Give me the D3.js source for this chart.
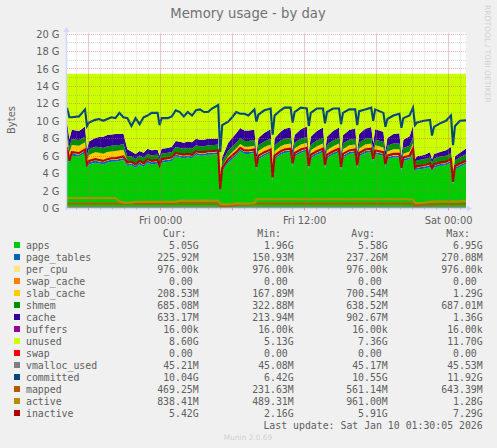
<!DOCTYPE html>
<html>
<head>
<meta charset="utf-8">
<script src="https://cdn.jsdelivr.net/npm/d3@7"></script>
<style>
  html, body { margin: 0; padding: 0; background: #f0f0f0; }
  svg { display: block; }
  text { font-family: "DejaVu Sans", sans-serif; }
  .mono { font-family: "DejaVu Sans Mono", monospace; font-size: 9.85px; fill: #606060; }
</style>
</head>
<body>
<svg id="chart" width="497" height="448"></svg>
<script>
const startTime = Date.UTC(2026, 0, 8, 16, 17);
const endTime = Date.UTC(2026, 0, 10, 1, 32);

// minutes after startTime
const sampleMinutes = [0,12,24,60,90,100,110,141,161,181,
  202,222,242,262,282,302,322,343,363,383,
  403,423,453,463,473,504,524,544,564,584,
  604,625,645,665,685,705,725,756,766,776,
  806,826,846,866,887,907,937,947,957,987,
  1018,1028,1038,1068,1088,1118,1128,1138,1169,1199,
  1209,1219,1249,1280,1290,1300,1330,1360,1370,1380,
  1411,1441,1451,1461,1491,1521,1531,1541,1582,1592,
  1602,1632,1662,1672,1682,1713,1730,1740,1750,1785,
  1815,1825,1835,1865,1895,1920,1930,1940,1965,1995];

const apps = [6.6,5.0,6.0,5.9,6.3,4.6,5.0,5.2,5.1,5.0,
  5.2,5.3,5.3,5.4,5.5,4.8,4.9,4.6,5.0,4.7,
  5.2,5.0,5.1,4.6,5.2,5.3,5.4,5.9,5.8,5.7,
  5.8,5.7,6.1,6.0,6.0,6.1,6.1,6.2,1.96,4.2,
  5.2,5.6,6.0,6.5,6.2,6.2,6.3,4.3,5.6,6.0,
  6.3,3.1,5.6,6.1,6.3,6.4,4.7,5.9,6.3,6.5,
  4.4,5.7,6.1,6.4,4.5,5.7,6.1,6.4,4.3,5.8,
  6.2,6.3,4.5,5.9,6.3,6.4,5.2,6.2,6.0,4.6,
  5.6,5.8,5.8,4.2,5.4,5.6,6.4,4.2,4.4,4.5,
  4.7,4.2,4.6,4.8,4.9,5.2,2.6,4.4,4.7,5.05];
const pageTables = [.23,.23,.23,.23,.23,.23,.23,.23,.23,.23,
  .23,.23,.23,.23,.23,.23,.23,.23,.23,.23,
  .23,.23,.23,.23,.23,.23,.23,.23,.23,.23,
  .23,.23,.23,.23,.23,.23,.23,.23,.23,.23,
  .23,.23,.23,.23,.23,.23,.23,.23,.23,.23,
  .23,.23,.23,.23,.23,.23,.23,.23,.23,.23,
  .23,.23,.23,.23,.23,.23,.23,.23,.23,.23,
  .23,.23,.23,.23,.23,.23,.23,.23,.23,.23,
  .23,.23,.23,.23,.23,.23,.23,.23,.23,.23,
  .23,.23,.23,.23,.23,.23,.23,.23,.23,.23];
const slabCache = [1.25,1.1,1.0,1.0,1.0,.7,.85,.95,1.0,1.0,
  1.0,.95,1.0,.95,.95,.3,.2,.2,.2,.2,
  .2,.2,.2,.2,.2,.2,.2,.2,.2,.2,
  .2,.2,.2,.2,.2,.2,.2,.2,.17,.35,
  .5,.55,.6,.6,.6,.6,.6,.45,.7,.75,
  .75,.4,.7,.75,.75,.75,.5,.7,.75,.75,
  .5,.7,.75,.75,.5,.7,.75,.75,.5,.7,
  .75,.75,.5,.7,.75,.75,.6,.75,.7,.5,
  .65,.7,.7,.45,.6,.65,.8,.25,.2,.2,
  .2,.2,.2,.2,.2,.2,.2,.2,.2,.21];
const shmem = [.65,.65,.65,.65,.65,.6,.65,.65,.65,.65,
  .65,.65,.65,.65,.65,.6,.6,.6,.6,.6,
  .6,.6,.6,.55,.6,.6,.6,.65,.65,.65,
  .65,.65,.65,.65,.65,.65,.65,.65,.32,.55,
  .65,.65,.65,.65,.65,.65,.65,.55,.65,.65,
  .65,.45,.65,.65,.65,.65,.55,.65,.65,.65,
  .55,.65,.65,.65,.55,.65,.65,.65,.55,.65,
  .65,.65,.55,.65,.65,.65,.6,.65,.65,.55,
  .65,.65,.65,.55,.65,.65,.65,.55,.65,.65,
  .65,.55,.65,.65,.65,.65,.45,.65,.65,.69];
const cache = [1.2,.9,1.1,1.05,1.15,.6,.9,1.0,1.15,1.3,
  1.3,1.3,1.3,1.25,1.2,.8,.55,.55,.5,.6,
  .55,.6,.55,.4,.55,.55,.6,.7,.7,.7,
  .75,.75,.75,.75,.75,.75,.75,.7,.21,.5,
  .9,1.0,1.1,1.2,1.2,1.2,1.2,.6,.85,1.0,
  1.1,.4,.8,1.0,1.15,1.2,.6,.9,1.1,1.2,
  .6,.9,1.1,1.2,.6,.9,1.1,1.2,.6,.95,
  1.1,1.2,.6,1.0,1.15,1.25,.8,1.2,1.15,.6,
  .9,1.1,1.2,.5,.95,1.1,1.36,.4,.45,.5,
  .6,.4,.5,.55,.65,.7,.3,.45,.55,.63];
const unused = [5.47,7.52,6.42,6.57,6.07,8.67,7.77,7.37,7.27,7.22,
  7.02,6.97,6.92,6.92,6.87,8.67,8.92,9.22,8.87,9.07,
  8.62,8.77,8.72,9.42,8.62,8.52,8.37,7.72,7.82,7.92,
  7.77,7.87,7.47,7.57,7.57,7.47,7.47,7.42,12.51,9.57,
  7.92,7.37,6.82,6.22,6.52,6.52,6.42,9.27,7.37,6.77,
  6.37,10.82,7.42,6.67,6.32,6.17,8.82,7.02,6.37,6.07,
  9.12,7.22,6.57,6.17,9.02,7.22,6.57,6.17,9.22,7.07,
  6.47,6.27,9.02,6.92,6.32,6.12,7.97,6.37,6.67,8.92,
  7.37,6.92,6.82,9.47,7.57,7.17,5.96,9.77,9.47,9.32,
  9.02,9.82,9.22,8.97,8.77,8.42,11.62,9.47,9.07,8.59];

const committed = [11.5,10.4,10.4,10.5,11.3,9.4,9.8,10.1,10.2,10.0,
  10.2,10.4,10.3,10.9,10.4,10.3,9.4,10.3,9.6,10.4,
  10.6,10.9,10.9,9.5,10.3,10.3,10.5,11.2,11.0,10.5,
  11.0,10.6,11.2,11.3,11.0,11.0,11.4,11.8,6.42,9.5,
  9.9,10.4,11.0,10.8,10.8,10.6,11.3,9.9,10.7,11.2,
  11.4,8.4,10.6,11.2,11.5,11.5,9.8,11.0,11.5,11.4,
  9.4,10.9,11.4,11.4,9.7,11.0,11.4,11.4,9.6,10.9,
  11.3,11.3,9.5,11.1,11.3,11.5,10.0,11.3,10.9,9.3,
  10.2,10.6,10.8,9.2,10.3,10.6,11.5,9.5,9.8,10.0,
  10.1,8.3,9.3,9.7,10.0,10.6,7.2,9.4,10.0,10.04];
const inactive = [7.0,5.4,6.4,6.3,6.7,5.0,5.4,5.6,5.5,5.4,
  5.6,5.7,5.7,5.8,5.9,5.2,5.3,5.0,5.4,5.1,
  5.6,5.4,5.5,4.9,5.6,5.7,5.8,6.3,6.2,6.1,
  6.2,6.1,6.5,6.4,6.4,6.5,6.5,6.6,2.16,4.6,
  5.6,6.0,6.4,6.9,6.6,6.6,6.7,4.7,6.0,6.4,
  6.7,3.5,6.0,6.5,6.7,6.8,5.1,6.3,6.7,6.9,
  4.8,6.1,6.5,6.8,4.9,6.1,6.5,6.8,4.7,6.2,
  6.6,6.7,4.9,6.3,6.7,6.8,5.6,6.6,6.4,5.0,
  6.0,6.2,6.2,4.6,5.8,6.0,6.8,4.6,4.8,4.9,
  5.1,4.6,5.0,5.2,5.3,5.6,3.0,4.8,5.1,5.42];
const active = [1.15,1.15,1.15,1.15,1.15,1.15,1.15,1.15,1.15,1.15,
  1.15,1.15,1.15,.75,.62,.62,.62,.72,.72,.72,
  .72,.72,.72,.72,.72,.72,.72,.72,.85,.85,
  .85,.85,.85,.85,.85,.85,.85,.85,.45,.42,
  .42,.45,.5,.5,.5,.5,.55,1.0,1.0,1.0,
  1.0,1.0,1.0,1.0,1.0,1.0,1.0,1.0,1.0,1.0,
  1.0,1.0,1.0,1.0,1.0,1.0,1.0,1.0,1.0,1.0,
  1.0,1.0,1.0,1.0,1.0,1.0,1.0,1.0,1.0,1.0,
  1.0,1.0,1.0,1.0,1.0,1.0,.95,.6,.55,.6,
  .72,.72,.75,.75,.75,.75,.75,.75,.78,.82];
const mapped = [.5,.5,.5,.5,.5,.5,.5,.5,.5,.5,
  .5,.5,.5,.5,.5,.5,.5,.5,.5,.5,
  .5,.5,.5,.5,.5,.5,.5,.5,.5,.5,
  .5,.5,.5,.5,.5,.5,.5,.5,.25,.2,
  .25,.3,.35,.4,.4,.42,.45,.5,.5,.5,
  .5,.48,.5,.52,.5,.5,.48,.5,.52,.5,
  .48,.5,.52,.5,.48,.5,.52,.5,.48,.5,
  .52,.5,.48,.5,.52,.5,.5,.5,.52,.48,
  .5,.52,.5,.48,.5,.5,.48,.3,.3,.4,
  .42,.42,.42,.45,.45,.45,.42,.45,.45,.47];
const vmallocUsed = [.045,.045,.045,.045,.045,.045,.045,.045,.045,.045,
  .045,.045,.045,.045,.045,.045,.045,.045,.045,.045,
  .045,.045,.045,.045,.045,.045,.045,.045,.045,.045,
  .045,.045,.045,.045,.045,.045,.045,.045,.045,.045,
  .045,.045,.045,.045,.045,.045,.045,.045,.045,.045,
  .045,.045,.045,.045,.045,.045,.045,.045,.045,.045,
  .045,.045,.045,.045,.045,.045,.045,.045,.045,.045,
  .045,.045,.045,.045,.045,.045,.045,.045,.045,.045,
  .045,.045,.045,.045,.045,.045,.045,.045,.045,.045,
  .045,.045,.045,.045,.045,.045,.045,.045,.045,.045];

const yTicks = [0, 2, 4, 6, 8, 10, 12, 14, 16, 18, 20];

const legendNames = ['apps','page_tables','per_cpu','swap_cache','slab_cache','shmem','cache','buffers','unused','swap','vmalloc_used','committed','mapped','active','inactive'];
const legendColours = ['#00cc00','#0066b3','#ffe680','#ff8000','#ffcc00','#008f00','#330099','#990099','#ccff00','#ff0000','#808080','#00487d','#b35a00','#b38f00','#b30000'];
const curValues = ['5.05G','225.92M','976.00k','0.00 ','208.53M','685.08M','633.17M','16.00k','8.60G','0.00 ','45.21M','10.04G','469.25M','838.41M','5.42G'];
const minValues = ['1.96G','150.93M','976.00k','0.00 ','167.89M','322.88M','213.94M','16.00k','5.13G','0.00 ','45.08M','6.42G','231.63M','489.31M','2.16G'];
const avgValues = ['5.58G','237.26M','976.00k','0.00 ','700.54M','638.52M','902.67M','16.00k','7.36G','0.00 ','45.17M','10.55G','561.14M','961.00M','5.91G'];
const maxValues = ['6.95G','270.08M','976.00k','0.00 ','1.29G','687.01M','1.36G','16.00k','11.70G','0.00 ','45.53M','11.92G','643.39M','1.28G','7.29G'];

const svg = d3.select('#chart');
const plotLeft = 67, plotRight = 466, plotTop = 33.5, plotBottom = 208;

const x = d3.scaleUtc().domain([startTime, endTime]).range([plotLeft, plotRight]);
const y = d3.scaleLinear().domain([0, 20]).range([plotBottom, plotTop]);
const timeAt = i => startTime + sampleMinutes[i] * 60000;

svg.append('rect').attr('x', plotLeft).attr('y', plotTop - 1)
  .attr('width', plotRight - plotLeft).attr('height', plotBottom - plotTop + 1).attr('fill', '#fff');

// stacked areas
const rows = apps.map((v, i) => ({
  apps: v, page_tables: pageTables[i], slab_cache: slabCache[i],
  shmem: shmem[i], cache: cache[i], unused: unused[i]
}));
const stackKeys = ['apps', 'page_tables', 'slab_cache', 'shmem', 'cache', 'unused'];
const area = d3.area()
  .x((d, i) => x(timeAt(i)))
  .y0(d => y(d[0]))
  .y1(d => y(d[1]));
svg.append('g').selectAll('path')
  .data(d3.stack().keys(stackKeys)(rows))
  .join('path')
    .attr('fill', d => legendColours[legendNames.indexOf(d.key)])
    .attr('d', area);

// line series
const line = d3.line().x((d, i) => x(timeAt(i))).y(d => y(d));
const lineSeries = [
  [vmallocUsed, '#808080'], [committed, '#00487d'], [mapped, '#b35a00'],
  [active, '#b38f00'], [inactive, '#b30000']
];
svg.append('g').selectAll('path')
  .data(lineSeries)
  .join('path')
    .attr('fill', 'none')
    .attr('stroke', d => d[1])
    .attr('stroke-width', 2.1)
    .attr('d', d => line(d[0]));

// grid goes over the marks
const grid = svg.append('g');
const minorY = d3.range(1, 21, 2);
const minorCol = 'rgba(130,130,130,.3)', majorCol = 'rgba(220,80,80,.45)';
grid.selectAll('.minor-y').data(minorY).join('line')
  .attr('class', 'minor-y')
  .attr('x1', plotLeft).attr('x2', plotRight + 1)
  .attr('y1', d => Math.round(y(d)) + .5).attr('y2', d => Math.round(y(d)) + .5)
  .attr('stroke', minorCol).attr('stroke-dasharray', '1 1');
grid.selectAll('.minor-x').data(x.ticks(d3.utcHour.every(1))).join('line')
  .attr('class', 'minor-x')
  .attr('y1', plotTop).attr('y2', plotBottom)
  .attr('x1', d => Math.round(x(d)) + .5).attr('x2', d => Math.round(x(d)) + .5)
  .attr('stroke', minorCol).attr('stroke-dasharray', '1 1');
grid.selectAll('.major-y').data(yTicks.slice(1)).join('line')
  .attr('class', 'major-y')
  .attr('x1', plotLeft).attr('x2', plotRight + 1)
  .attr('y1', d => Math.round(y(d)) + .5).attr('y2', d => Math.round(y(d)) + .5)
  .attr('stroke', majorCol).attr('stroke-dasharray', '1 1');
grid.selectAll('.major-x').data(x.ticks(d3.utcHour.every(6))).join('line')
  .attr('class', 'major-x')
  .attr('y1', plotTop).attr('y2', plotBottom)
  .attr('x1', d => Math.round(x(d)) + .5).attr('x2', d => Math.round(x(d)) + .5)
  .attr('stroke', majorCol).attr('stroke-dasharray', '1 1');

// axes
const yAxis = d3.axisLeft(y).tickValues(yTicks).tickSize(0).tickPadding(7.5)
  .tickFormat(d => d + ' G');
const gy = svg.append('g').attr('transform', `translate(${plotLeft},0.5)`).call(yAxis);
gy.select('.domain').remove();
gy.selectAll('text').attr('fill', '#606060').style('font-size', '9.9px');

const xAxis = d3.axisBottom(x).tickValues(x.ticks(d3.utcHour.every(12))).tickSize(0).tickPadding(8.5)
  .tickFormat(d3.utcFormat('%a %H:%M'));
const gx = svg.append('g').attr('transform', `translate(0.5,${plotBottom})`).call(xAxis);
gx.select('.domain').remove();
gx.selectAll('text').attr('fill', '#606060').style('font-size', '9.9px');

const axisCol = '#d0d8f8';
svg.append('line').attr('x1', plotLeft - .5).attr('x2', plotLeft - .5).attr('y1', 28).attr('y2', plotBottom + 2)
  .attr('stroke', axisCol).attr('stroke-width', 1.5);
svg.append('line').attr('x1', plotLeft - 2).attr('x2', 468).attr('y1', plotBottom + .5).attr('y2', plotBottom + .5)
  .attr('stroke', axisCol).attr('stroke-width', 1.5);
svg.append('path').attr('d', `M${plotLeft - 3.5},32L${plotLeft - .5},26.5L${plotLeft + 2.5},32Z`).attr('fill', axisCol);
svg.append('path').attr('d', `M467,${plotBottom - 2.5}L472,${plotBottom + .5}L467,${plotBottom + 3.5}Z`).attr('fill', axisCol);

// small tick marks under the axis
svg.append('g').selectAll('line').data(x.ticks(d3.utcHour.every(1))).join('line')
  .attr('x1', d => Math.round(x(d)) + .5).attr('x2', d => Math.round(x(d)) + .5)
  .attr('y1', plotBottom).attr('y2', d => plotBottom + (d.getUTCHours() % 6 ? 1.5 : 2.5))
  .attr('stroke', d => d.getUTCHours() % 6 ? '#bbb' : '#e99');

// titles
svg.append('text').attr('x', 248).attr('y', 18).attr('text-anchor', 'middle')
  .attr('fill', '#707070').style('font-size', '13.2px').text('Memory usage - by day');
svg.append('text').attr('transform', 'translate(14.5,120) rotate(-90)').attr('text-anchor', 'middle')
  .attr('fill', '#666').style('font-size', '10px').text('Bytes');
svg.append('text').attr('transform', 'translate(485,5) rotate(90)')
  .attr('fill', '#d0d0d0').style('font-size', '7.6px').text('RRDTOOL / TOBI OETIKER');

// legend table
const rowY = i => 248.5 + i * 12;
const legend = svg.append('g');
legend.selectAll('rect').data(legendNames).join('rect')
  .attr('x', 14).attr('y', (d, i) => rowY(i) - 6.5)
  .attr('width', 6).attr('height', 6)
  .attr('fill', (d, i) => legendColours[i]);
legend.selectAll('.name').data(legendNames).join('text')
  .attr('class', 'mono name')
  .attr('x', 26).attr('y', (d, i) => rowY(i)).text(d => d);

const columns = [
  ['Cur:', curValues, 186.5, 198.7], ['Min:', minValues, 281, 293.7],
  ['Avg:', avgValues, 375, 387.7], ['Max:', maxValues, 470, 482.7]
];
columns.forEach(([head, vals, hx, vx]) => {
  legend.append('text').attr('class', 'mono').attr('x', hx).attr('y', 236.5)
    .attr('text-anchor', 'end').text(head);
  vals.forEach((v, i) => {
    legend.append('text').attr('class', 'mono')
      .style('white-space', 'pre')
      .attr('x', vx).attr('y', rowY(i)).attr('text-anchor', 'end').text(v);
  });
});
legend.append('text').attr('class', 'mono').attr('x', 482.7).attr('y', 428.5)
  .attr('text-anchor', 'end').text('Last update: Sat Jan 10 01:30:05 2026');
svg.append('text').attr('x', 248).attr('y', 440).attr('text-anchor', 'middle')
  .attr('fill', '#d0d0d0').style('font-size', '7.4px').text('Munin 2.0.69');
</script>
</body>
</html>
